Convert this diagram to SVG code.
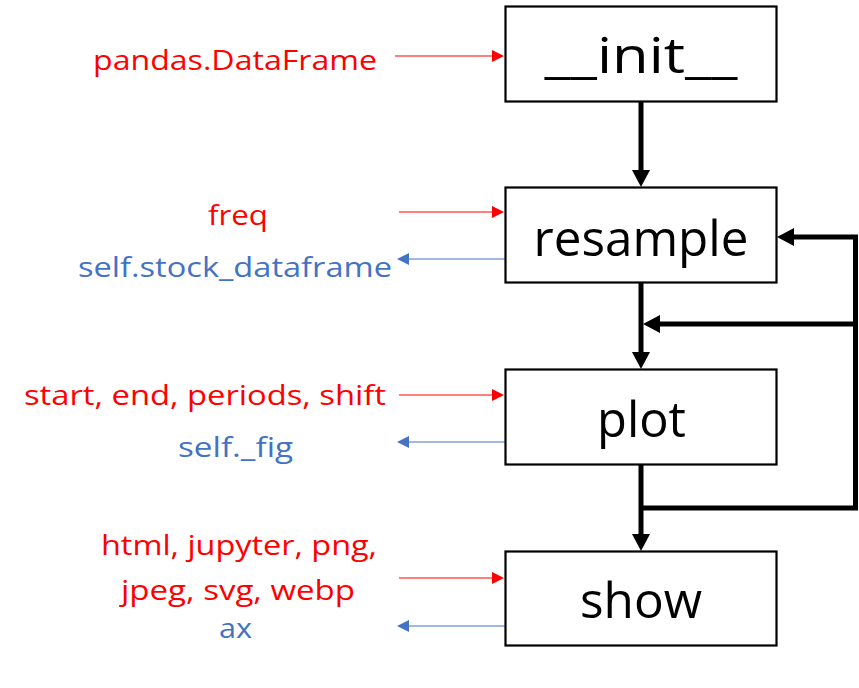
<svg xmlns="http://www.w3.org/2000/svg" width="859" height="688" viewBox="0 0 859 688">
<style>
.box{fill:#fff;stroke:#000;stroke-width:2.2}
.nt{font-family:"Open Sans","Liberation Sans",sans-serif;font-size:50px;fill:#000;text-anchor:middle}
.lb{font-family:"Open Sans","Liberation Sans",sans-serif;font-size:27px;text-anchor:middle}
.red{fill:#FF0000}
.blue{fill:#4472C4}
.thick{fill:none;stroke:#000;stroke-width:5;stroke-linejoin:miter}
.tr{fill:none;stroke:#FF0000;stroke-width:1.2}
.tb{fill:none;stroke:#4472C4;stroke-width:1.2}
</style>
<defs>
<marker id="ah" markerUnits="userSpaceOnUse" viewBox="0 0 17 18" refX="0" refY="9" markerWidth="17" markerHeight="18" orient="auto">
<path d="M0,0 L17,9 L0,18 z" fill="#000"/>
</marker>
<marker id="ahr" markerUnits="userSpaceOnUse" viewBox="0 0 12 12" refX="0" refY="6" markerWidth="12" markerHeight="12" orient="auto">
<path d="M0,0 L12,6 L0,12 z" fill="#FF0000"/>
</marker>
<marker id="ahb" markerUnits="userSpaceOnUse" viewBox="0 0 12 12" refX="0" refY="6" markerWidth="12" markerHeight="12" orient="auto">
<path d="M0,0 L12,6 L0,12 z" fill="#4472C4"/>
</marker>
</defs>
<g id="connectors">
<path class="thick" d="M641,102 V170" marker-end="url(#ah)"/>
<path class="thick" d="M641,283 V352" marker-end="url(#ah)"/>
<path class="thick" d="M641,465 V534" marker-end="url(#ah)"/>
<path class="thick" d="M641,508 H855.5 V237 H794" marker-end="url(#ah)"/>
<path class="thick" d="M855.5,324 H660" marker-end="url(#ah)"/>
<path class="tr" d="M395,56 H492" marker-end="url(#ahr)"/>
<path class="tr" d="M399,212 H492" marker-end="url(#ahr)"/>
<path class="tb" d="M505,259 H409" marker-end="url(#ahb)"/>
<path class="tr" d="M399,395 H492" marker-end="url(#ahr)"/>
<path class="tb" d="M505,442 H409" marker-end="url(#ahb)"/>
<path class="tr" d="M399,578 H492" marker-end="url(#ahr)"/>
<path class="tb" d="M505,626 H409" marker-end="url(#ahb)"/>
</g>
<g id="node-init">
<rect class="box" x="505.5" y="6.5" width="271" height="95"/>
<text class="nt" x="641" y="73" textLength="193" lengthAdjust="spacingAndGlyphs">__init__</text>
</g>
<g id="node-resample">
<rect class="box" x="505.5" y="187.5" width="271" height="95"/>
<text class="nt" x="641" y="256" textLength="215" lengthAdjust="spacingAndGlyphs">resample</text>
</g>
<g id="node-plot">
<rect class="box" x="505.5" y="369.5" width="271" height="95"/>
<text class="nt" x="641.5" y="437" textLength="89" lengthAdjust="spacingAndGlyphs">plot</text>
</g>
<g id="node-show">
<rect class="box" x="505.5" y="551.5" width="271" height="94"/>
<text class="nt" x="641" y="618" textLength="122" lengthAdjust="spacingAndGlyphs">show</text>
</g>
<g id="labels">
<text class="lb red" x="235" y="70" textLength="284" lengthAdjust="spacingAndGlyphs">pandas.DataFrame</text>
<text class="lb red" x="238" y="225" textLength="60" lengthAdjust="spacingAndGlyphs">freq</text>
<text class="lb blue" x="235" y="277" textLength="314" lengthAdjust="spacingAndGlyphs">self.stock_dataframe</text>
<text class="lb red" x="205" y="405" textLength="362" lengthAdjust="spacingAndGlyphs">start, end, periods, shift</text>
<text class="lb blue" x="235.5" y="457" textLength="115" lengthAdjust="spacingAndGlyphs">self._fig</text>
<text class="lb red" x="239" y="555" textLength="276" lengthAdjust="spacingAndGlyphs">html, jupyter, png,</text>
<text class="lb red" x="238" y="600" textLength="234" lengthAdjust="spacingAndGlyphs">jpeg, svg, webp</text>
<text class="lb blue" x="235.5" y="638" textLength="33" lengthAdjust="spacingAndGlyphs">ax</text>
</g>
</svg>
